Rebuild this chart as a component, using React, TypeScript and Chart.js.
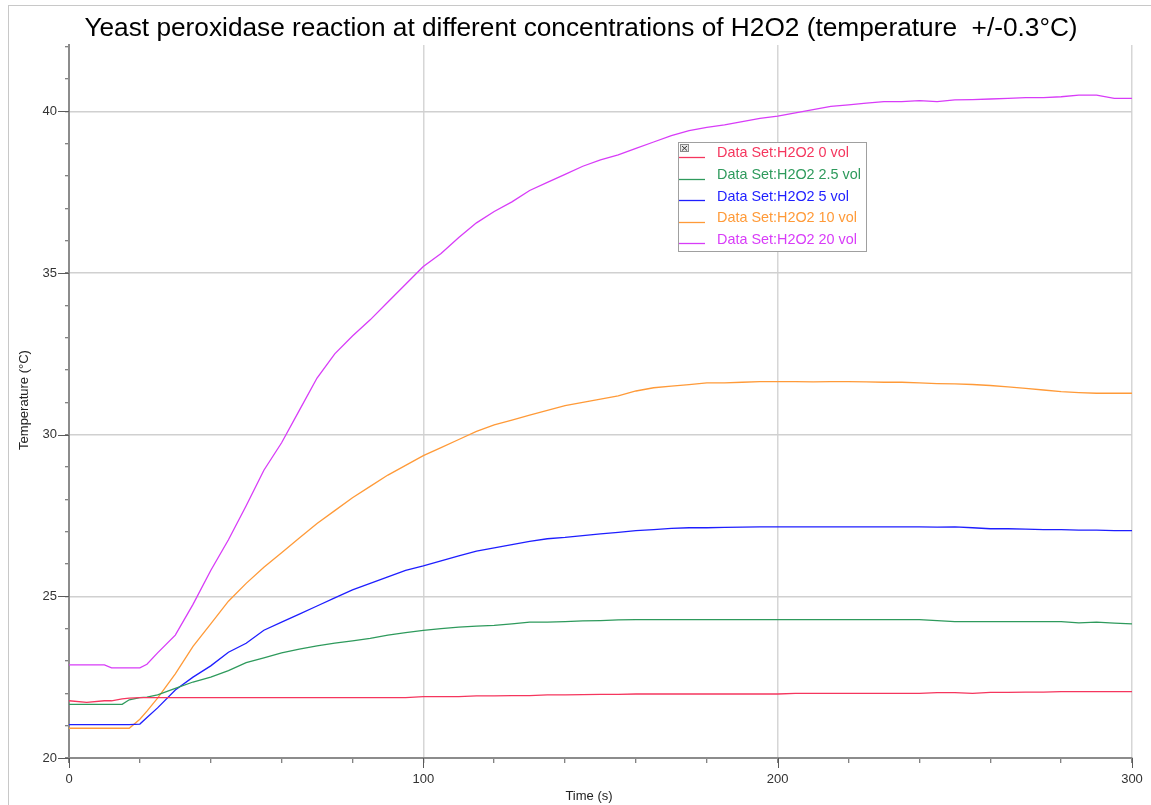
import React, { useEffect, useRef } from "react";
import { Chart, registerables } from "chart.js";

Chart.register(...registerables);

const FONT = "'Liberation Sans', Arial, Helvetica, sans-serif";

const chartTitle = "Yeast peroxidase reaction at different concentrations of H2O2 (temperature  +/-0.3°C)";
const xAxisTitle = "Time (s)";
const yAxisTitle = "Temperature (°C)";

const times = [
  0, 5, 10, 12, 15, 17, 20, 22, 25,
  30, 35, 40, 45, 50, 55, 60, 65, 70, 75,
  80, 85, 90, 95, 100, 105, 110, 115, 120, 125,
  130, 135, 140, 145, 150, 155, 160, 165, 170, 175,
  180, 185, 190, 195, 200, 205, 210, 215, 220, 225,
  230, 235, 240, 245, 250, 255, 260, 265, 270, 275,
  280, 285, 290, 295, 300,
];

const seriesNames = [
  "Data Set:H2O2 0 vol",
  "Data Set:H2O2 2.5 vol",
  "Data Set:H2O2 5 vol",
  "Data Set:H2O2 10 vol",
  "Data Set:H2O2 20 vol",
];

const seriesColors = ["#f5365e", "#2e9a5c", "#1e1eff", "#ff9a38", "#d83cf8"];

const vol0 = [
  21.77, 21.72, 21.77, 21.77, 21.83, 21.85, 21.87, 21.87, 21.87,
  21.87, 21.87, 21.87, 21.87, 21.87, 21.87, 21.87, 21.87, 21.87, 21.87,
  21.87, 21.87, 21.87, 21.87, 21.9, 21.9, 21.9, 21.92, 21.92, 21.93,
  21.93, 21.95, 21.95, 21.96, 21.97, 21.97, 21.98, 21.98, 21.98, 21.98,
  21.98, 21.98, 21.98, 21.98, 21.98, 22.0, 22.0, 22.0, 22.0, 22.0,
  22.0, 22.0, 22.0, 22.02, 22.02, 22.0, 22.03, 22.03, 22.04, 22.04,
  22.05, 22.05, 22.05, 22.05, 22.05,
];

const vol2_5 = [
  21.66, 21.66, 21.66, 21.66, 21.66, 21.8, 21.87, 21.88, 21.95,
  22.15, 22.35, 22.5, 22.7, 22.95, 23.1, 23.25, 23.37, 23.47, 23.55,
  23.62, 23.7, 23.8, 23.88, 23.95, 24.0, 24.05, 24.08, 24.1, 24.15,
  24.2, 24.2, 24.22, 24.24, 24.25, 24.27, 24.28, 24.28, 24.28, 24.28,
  24.28, 24.28, 24.28, 24.28, 24.28, 24.28, 24.28, 24.28, 24.28, 24.28,
  24.28, 24.28, 24.28, 24.25, 24.22, 24.22, 24.22, 24.22, 24.22, 24.22,
  24.22, 24.18, 24.2, 24.17, 24.15,
];

const vol5 = [
  21.03, 21.03, 21.03, 21.03, 21.03, 21.03, 21.05, 21.25, 21.55,
  22.1, 22.5, 22.85, 23.27, 23.55, 23.95, 24.2, 24.45, 24.7, 24.95,
  25.2, 25.4, 25.6, 25.8, 25.94, 26.1, 26.25, 26.4, 26.5, 26.6,
  26.7, 26.78, 26.82, 26.88, 26.93, 26.98, 27.03, 27.06, 27.1, 27.12,
  27.12, 27.13, 27.14, 27.15, 27.15, 27.15, 27.15, 27.15, 27.15, 27.15,
  27.15, 27.15, 27.15, 27.14, 27.15, 27.12, 27.09, 27.09, 27.08, 27.06,
  27.06, 27.05, 27.05, 27.03, 27.03,
];

const vol10 = [
  20.92, 20.92, 20.92, 20.92, 20.92, 20.92, 21.2, 21.45, 21.85,
  22.6, 23.45, 24.15, 24.85, 25.4, 25.9, 26.35, 26.8, 27.25, 27.65,
  28.05, 28.4, 28.75, 29.05, 29.35, 29.6, 29.85, 30.1, 30.3, 30.45,
  30.6, 30.75, 30.9, 31.0, 31.1, 31.2, 31.35, 31.45, 31.5, 31.55,
  31.6, 31.6, 31.62, 31.64, 31.64, 31.64, 31.63, 31.64, 31.64, 31.63,
  31.62, 31.62, 31.6, 31.58, 31.57, 31.55, 31.52, 31.48, 31.43, 31.38,
  31.33, 31.3, 31.28, 31.28, 31.28,
];

const vol20 = [
  22.88, 22.88, 22.88, 22.79, 22.79, 22.79, 22.79, 22.9, 23.25,
  23.8, 24.75, 25.8, 26.75, 27.8, 28.9, 29.75, 30.75, 31.75, 32.5,
  33.05, 33.55, 34.1, 34.65, 35.2, 35.6, 36.1, 36.55, 36.9, 37.2,
  37.55, 37.8, 38.05, 38.3, 38.5, 38.65, 38.85, 39.05, 39.25, 39.4,
  39.5, 39.58, 39.68, 39.78, 39.85, 39.95, 40.05, 40.15, 40.2, 40.25,
  40.3, 40.3, 40.33, 40.3, 40.35, 40.36, 40.38, 40.4, 40.42, 40.42,
  40.45, 40.5, 40.5, 40.4, 40.4,
];

const seriesValues = [vol0, vol2_5, vol5, vol10, vol20];

const xMajorTicks = [0, 100, 200, 300];
const yMajorTicks = [20, 25, 30, 35, 40];

const overlayPlugin = {
  id: "overlayPlugin",
  beforeDraw(chart: any) {
    const ctx = chart.ctx;
    ctx.save();
    ctx.fillStyle = "#ffffff";
    ctx.fillRect(0, 0, chart.width, chart.height);
    ctx.strokeStyle = "#c8c8c8";
    ctx.lineWidth = 1;
    ctx.strokeRect(8.5, 5.5, chart.width + 20, chart.height + 20);
    ctx.restore();
  },
  afterDraw(chart: any) {
    const ctx = chart.ctx;
    const area = chart.chartArea;
    const xs = chart.scales.x;
    const ys = chart.scales.y;
    ctx.save();

    // longer major tick marks
    ctx.strokeStyle = "#5a5a5a";
    ctx.lineWidth = 1;
    yMajorTicks.forEach((v) => {
      const py = Math.round(ys.getPixelForValue(v)) + 0.5;
      ctx.beginPath();
      ctx.moveTo(area.left - 11, py);
      ctx.lineTo(area.left, py);
      ctx.stroke();
    });
    xMajorTicks.forEach((v) => {
      const px = Math.round(xs.getPixelForValue(v)) + 0.5;
      ctx.beginPath();
      ctx.moveTo(px, area.bottom);
      ctx.lineTo(px, area.bottom + 10);
      ctx.stroke();
    });

    // title
    ctx.fillStyle = "#000000";
    ctx.font = `26.25px ${FONT}`;
    ctx.textAlign = "center";
    ctx.textBaseline = "middle";
    ctx.fillText(chartTitle, 581, 29);

    // axis titles
    ctx.fillStyle = "#222222";
    ctx.font = `13px ${FONT}`;
    ctx.fillText(xAxisTitle, 589, 796);
    ctx.save();
    ctx.translate(24.5, 400);
    ctx.rotate(-Math.PI / 2);
    ctx.fillText(yAxisTitle, 0, 0);
    ctx.restore();

    // legend box
    const lx = 678.5;
    const ly = 142.5;
    const lw = 188;
    const lh = 109;
    ctx.fillStyle = "#ffffff";
    ctx.fillRect(lx, ly, lw, lh);
    ctx.strokeStyle = "#a0a0a0";
    ctx.lineWidth = 1;
    ctx.strokeRect(lx, ly, lw, lh);

    // close icon
    ctx.fillStyle = "#e6e6e6";
    ctx.fillRect(680, 144, 9, 8);
    ctx.strokeStyle = "#8a8a8a";
    ctx.strokeRect(680.5, 144.5, 8, 7);
    ctx.strokeStyle = "#333333";
    ctx.beginPath();
    ctx.moveTo(682, 146);
    ctx.lineTo(687, 150.5);
    ctx.moveTo(687, 146);
    ctx.lineTo(682, 150.5);
    ctx.stroke();

    ctx.textAlign = "left";
    ctx.textBaseline = "middle";
    ctx.font = `14.4px ${FONT}`;
    chart.data.datasets.forEach((ds: any, i: number) => {
      const rowY = 153.5 + i * 21.6;
      ctx.strokeStyle = ds.borderColor;
      ctx.lineWidth = 1.3;
      ctx.beginPath();
      ctx.moveTo(679, Math.round(rowY + 3.5) + 0.5);
      ctx.lineTo(705, Math.round(rowY + 3.5) + 0.5);
      ctx.stroke();
      ctx.fillStyle = ds.borderColor;
      ctx.fillText(ds.label, 717, rowY);
    });

    ctx.restore();
  },
};

export default function App() {
  const canvasRef = useRef<HTMLCanvasElement | null>(null);

  useEffect(() => {
    const canvas = canvasRef.current;
    if (!canvas) return;
    const datasets = seriesNames.map((name, i) => ({
      label: name,
      data: times.map((t, j) => ({ x: t, y: seriesValues[i][j] })),
      borderColor: seriesColors[i],
      backgroundColor: seriesColors[i],
      borderWidth: 1.3,
      pointRadius: 0,
      pointHoverRadius: 0,
      tension: 0,
      fill: false,
    }));

    const chart = new Chart(canvas, {
      type: "line",
      data: { datasets },
      options: {
        animation: false,
        responsive: false,
        maintainAspectRatio: false,
        devicePixelRatio: 1,
        layout: { padding: { left: 29, top: 45, right: 19, bottom: 0 } },
        plugins: {
          legend: { display: false },
          title: { display: false },
          tooltip: { enabled: false },
        },
        scales: {
          x: {
            type: "linear",
            min: 0,
            max: 300,
            afterFit: (scale: any) => {
              scale.height = 47;
              scale.paddingLeft = 0;
              scale.paddingRight = 0;
            },
            ticks: {
              stepSize: 20,
              autoSkip: false,
              maxRotation: 0,
              includeBounds: false,
              padding: 9,
              color: "#333333",
              font: { family: FONT, size: 13 },
              callback: (v: any) => (Number(v) % 100 === 0 ? String(v) : ""),
            },
            grid: {
              drawTicks: true,
              tickLength: 5,
              tickColor: "#5a5a5a",
              tickWidth: 1,
              lineWidth: 1.5,
              color: (c: any) =>
                c.tick && c.tick.value % 100 === 0 && c.tick.value !== 0 ? "#d6d6d6" : "rgba(0,0,0,0)",
            },
            border: { color: "#8c8c8c", width: 2 },
          },
          y: {
            type: "linear",
            min: 20,
            max: 42.05,
            afterFit: (scale: any) => {
              scale.width = 40;
              scale.paddingTop = 0;
              scale.paddingBottom = 0;
            },
            ticks: {
              stepSize: 1,
              autoSkip: false,
              includeBounds: false,
              padding: 8,
              color: "#333333",
              font: { family: FONT, size: 13 },
              callback: (v: any) => (Number(v) % 5 === 0 ? String(v) : ""),
            },
            grid: {
              drawTicks: true,
              tickLength: 4,
              tickColor: "#5a5a5a",
              tickWidth: 1,
              lineWidth: 1.5,
              color: (c: any) =>
                c.tick && c.tick.value % 5 === 0 && c.tick.value !== 20 ? "#d0d0d0" : "rgba(0,0,0,0)",
            },
            border: { color: "#8c8c8c", width: 2 },
          },
        },
      },
      plugins: [overlayPlugin],
    } as any);

    return () => {
      chart.destroy();
    };
  }, []);

  return (
    <div style={{ position: "fixed", left: 0, top: 0, width: 1151, height: 805, background: "#fff" }}>
      <canvas ref={canvasRef} width={1151} height={805} style={{ width: 1151, height: 805, display: "block" }} />
    </div>
  );
}
